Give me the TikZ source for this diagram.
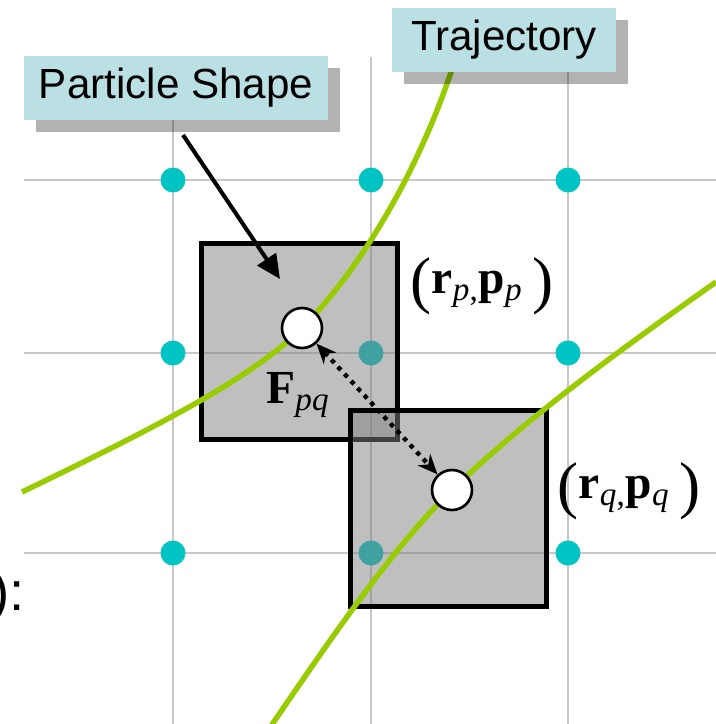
\documentclass[tikz,border=0pt]{standalone}
\usepackage{fix-cm}
\usepackage{fontspec}
\setmainfont{Liberation Serif}
\newfontfamily\labelfont{Liberation Sans}
\usepackage{tikz}
\usetikzlibrary{arrows.meta,shadows}
\usepackage{xcolor}

\definecolor{gridgray}{RGB}{200,200,200}
\definecolor{sitecyan}{RGB}{0,196,196}
\definecolor{trajgreen}{RGB}{153,204,0}
\definecolor{calloutblue}{RGB}{187,224,227}

\newcommand{\bigparen}[1]{\raisebox{-4.5pt}{\fontsize{36}{40}\selectfont#1}}

\begin{document}
\begin{tikzpicture}[
    x=0.02cm, y=-0.02cm,
    gridline/.style={draw=gridgray, line width=0.85pt},
    sitedot/.style={circle, fill=sitecyan, inner sep=0pt, minimum size=0.5cm},
    shapebox/.style={draw, line width=2.6pt, fill=gray, fill opacity=0.5, minimum size=3.92cm, inner sep=0pt},
    trajline/.style={draw=trajgreen, line width=3.1pt},
    particle/.style={circle, draw, line width=1.5pt, fill=white, minimum size=0.8cm, inner sep=0pt},
    forcearrow/.style={{Stealth[length=4mm, width=3.4mm]}-{Stealth[length=4mm, width=3.4mm]}, line width=2.5pt, dash pattern=on 2.5pt off 3pt},
    pointer/.style={-{Triangle[length=4.8mm, width=4.4mm]}, line width=2.3pt},
    callout/.style={fill=calloutblue, minimum height=1.28cm, inner sep=0pt, font=\labelfont\fontsize{24}{28}\selectfont,
        drop shadow={shadow xshift=0.24cm, shadow yshift=-0.24cm, fill=black, opacity=0.3}},
    statelabel/.style={inner sep=0pt, font=\fontsize{27}{32}\selectfont}
]
\useasboundingbox (0,0) rectangle (716,724);

% grid of sites
\foreach \y in {180,353,553}
    \draw[gridline] (24,\y) -- (716,\y);
\foreach \x in {173,371,568}
    \draw[gridline] (\x,57) -- (\x,724);
\foreach \x/\i in {173/1,371/2,568/3}
    \foreach \y/\j in {180/1,353/2,553/3}
        \node[sitedot] (site-\i-\j) at (\x,\y) {};

% particle shapes
\node[shapebox] (shapeP) at (299.5,341.5) {};
\node[shapebox] (shapeQ) at (448.5,508.5) {};

% trajectories through the particles
\coordinate (posP) at (302,328);
\coordinate (posQ) at (452,490);
\draw[trajline] (22,492) .. controls (150,430) and (250,380) .. (posP)
    .. controls (360,270) and (420,170) .. (455,60);
\draw[trajline] (271,726) .. controls (330,640) and (392,548) .. (posQ)
    .. controls (530,415) and (620,350) .. (716,282);

\node[particle] (ptclP) at (posP) {};
\node[particle] (ptclQ) at (posQ) {};
\draw[forcearrow] (ptclP) -- (ptclQ);

\node[statelabel] (stateP) at (482,286) {\bigparen{(}\textbf{r}\textsubscript{\textit{p},}\textbf{p}\textsubscript{\textit{p}}\hspace{0.2em}\bigparen{)}};
\node[statelabel] (stateQ) at (629,491) {\bigparen{(}\textbf{r}\textsubscript{\textit{q},}\textbf{p}\textsubscript{\textit{q}}\hspace{0.2em}\bigparen{)}};
\node[statelabel] (forcePQ) at (298,395) {\textbf{F}\textsubscript{\textit{pq}}};

% callouts
\node[callout, minimum width=6.08cm] (labShape) at (176,88) {Particle Shape};
\node[callout, minimum width=4.48cm] (labTraj) at (504,40) {Trajectory};
\coordinate (shapeTail) at (183,135);
\coordinate (shapeTip) at (280,279);
\draw[pointer] (shapeTail) -- (shapeTip);

\node[font=\labelfont\fontsize{31}{36}\selectfont, anchor=base east, inner sep=0pt] (cutText) at (25,610) {):};
\end{tikzpicture}
\end{document}
